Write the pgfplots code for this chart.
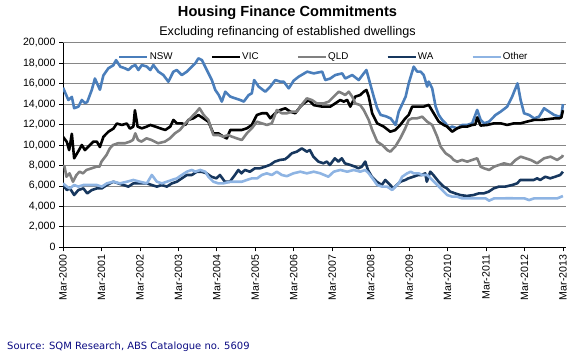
\documentclass[border=0pt]{standalone}
\usepackage{fontspec}
\setmainfont{Liberation Sans}
\newfontfamily\srcfont{DejaVu Sans}
\usepackage{pgfplots}
\pgfplotsset{compat=1.18}
\definecolor{nsw}{RGB}{74,126,187}
\definecolor{vic}{RGB}{0,0,0}
\definecolor{qld}{RGB}{128,128,128}
\definecolor{wa}{RGB}{23,55,94}
\definecolor{oth}{RGB}{142,180,227}
\definecolor{gridc}{RGB}{134,134,134}
\definecolor{srcblue}{RGB}{10,10,130}
\begin{document}
\begin{tikzpicture}[x=1pt,y=1pt]
\useasboundingbox (0,0) rectangle (575,357);
\begin{axis}[
 at={(63pt,109.7pt)}, anchor=south west,
 width=503pt, height=204.6pt, scale only axis,
 xmin=0, xmax=13.08, ymin=0, ymax=20,
 axis lines=left, axis line style={-, black, line width=0.8pt},
 tick align=outside, major tick length=4pt,
 tick style={black, line width=0.7pt},
 ymajorgrids, grid style={gridc, line width=0.75pt},
 ytick={0,2,...,20},
 yticklabels={0,{2,000},{4,000},{6,000},{8,000},{10,000},{12,000},{14,000},{16,000},{18,000},{20,000}},
 xtick={0,1,...,13},
 xticklabels={Mar-2000,Mar-2001,Mar-2002,Mar-2003,Mar-2004,Mar-2005,Mar-2006,Mar-2007,Mar-2008,Mar-2009,Mar-2010,Mar-2011,Mar-2012,Mar-2013},
 xticklabel style={rotate=90, anchor=east, font=\fontsize{10.6}{12}\selectfont},
 yticklabel style={font=\fontsize{10.6}{12}\selectfont},
 legend columns=5,
 legend style={at={(0.1093,0.930)}, anchor=west, draw=none, fill=none,
   font=\fontsize{9.8}{11}\selectfont, inner sep=0pt,
   nodes={inner sep=1pt},
   /tikz/every even column/.append style={column sep=37pt}},
 legend image code/.code={\draw[#1] (0pt,0pt) -- (28pt,0pt);},
 every axis plot/.append style={line width=2.6pt, line join=round},
]
\addplot[nsw] coordinates {(0.00,15.6) (0.14,14.4) (0.23,14.7) (0.29,13.6) (0.40,13.75) (0.49,14.4) (0.57,14.1) (0.63,14.2) (0.75,15.4) (0.83,16.5) (0.96,15.4) (1.05,16.8) (1.18,17.5) (1.31,17.8) (1.38,18.3) (1.49,17.66) (1.61,17.5) (1.70,17.33) (1.79,17.66) (1.88,17.82) (1.96,17.33) (2.05,17.82) (2.18,17.66) (2.27,17.33) (2.35,17.82) (2.48,17.17) (2.61,16.84) (2.74,16.19) (2.87,17.17) (2.96,17.33) (3.09,16.84) (3.22,17.17) (3.35,17.66) (3.44,17.98) (3.52,18.47) (3.61,18.31) (3.74,17.33) (3.87,16.35) (3.96,15.38) (4.05,14.89) (4.13,14.24) (4.22,15.21) (4.35,14.73) (4.48,14.56) (4.61,14.4) (4.70,14.24) (4.83,14.89) (4.91,15.05) (4.97,16.35) (5.09,15.7) (5.26,15.21) (5.39,15.7) (5.52,16.35) (5.65,16.19) (5.74,16.19) (5.87,15.54) (6.00,16.3) (6.13,16.68) (6.35,17.17) (6.52,17.0) (6.74,17.17) (6.82,16.35) (6.95,16.5) (7.08,16.84) (7.26,17.0) (7.34,16.5) (7.52,16.84) (7.69,16.35) (7.82,17.0) (7.89,17.33) (7.95,16.5) (8.08,14.73) (8.17,13.6) (8.26,12.94) (8.40,12.8) (8.52,12.6) (8.65,11.96) (8.73,13.26) (8.91,14.73) (8.99,16.03) (9.12,17.66) (9.21,17.17) (9.30,17.17) (9.38,16.84) (9.47,15.71) (9.51,16.2) (9.60,15.54) (9.69,13.75) (9.77,12.94) (9.86,12.45) (9.95,12.12) (10.03,11.63) (10.12,11.8) (10.25,11.63) (10.38,11.96) (10.51,11.96) (10.64,12.12) (10.77,13.43) (10.86,12.45) (10.95,12.12) (11.08,12.29) (11.25,12.94) (11.38,13.26) (11.55,13.75) (11.68,14.73) (11.82,16.03) (11.90,14.4) (11.99,13.1) (12.12,12.94) (12.25,12.6) (12.38,12.78) (12.51,13.59) (12.64,13.26) (12.77,12.94) (12.90,12.78) (12.96,12.9) (13.0,14.0)};
\addlegendentry{NSW}
\addplot[vic] coordinates {(0.0,10.8) (0.1,10.3) (0.16,9.5) (0.23,11.1) (0.29,8.7) (0.4,9.4) (0.49,10.0) (0.57,9.5) (0.7,10.0) (0.79,10.33) (0.88,10.33) (0.96,9.8) (1.05,10.8) (1.18,11.3) (1.31,11.6) (1.4,12.1) (1.53,11.96) (1.66,12.1) (1.74,11.6) (1.83,11.8) (1.87,13.4) (1.94,11.8) (2.05,11.63) (2.18,11.8) (2.27,11.96) (2.4,11.8) (2.53,11.63) (2.66,11.47) (2.79,11.8) (2.87,12.45) (2.96,12.12) (3.09,12.12) (3.18,11.96) (3.26,12.45) (3.39,12.61) (3.52,12.93) (3.65,12.61) (3.78,12.28) (3.91,11.14) (4.04,11.14) (4.17,10.82) (4.26,10.65) (4.35,11.47) (4.52,11.47) (4.65,11.47) (4.78,11.63) (4.91,11.96) (5.04,12.93) (5.17,13.1) (5.3,13.1) (5.39,12.61) (5.52,13.1) (5.65,13.42) (5.78,13.59) (5.91,13.26) (6.04,13.1) (6.17,13.75) (6.26,14.07) (6.39,14.4) (6.52,13.9) (6.74,13.75) (6.95,13.75) (7.08,14.07) (7.21,14.4) (7.3,14.24) (7.39,14.4) (7.47,13.75) (7.6,14.73) (7.73,14.89) (7.82,15.21) (7.89,15.38) (7.95,14.73) (8.04,13.1) (8.17,12.12) (8.34,11.8) (8.51,11.3) (8.64,11.46) (8.77,11.96) (8.9,12.6) (8.99,12.94) (9.08,13.75) (9.21,13.75) (9.38,13.75) (9.51,13.92) (9.64,13.1) (9.77,12.29) (9.9,11.96) (9.99,11.8) (10.12,11.3) (10.25,11.63) (10.38,11.8) (10.51,11.8) (10.64,11.96) (10.72,12.0) (10.77,12.7) (10.86,11.9) (11.03,11.96) (11.21,12.12) (11.38,12.12) (11.55,11.96) (11.73,12.12) (11.9,12.12) (12.07,12.29) (12.25,12.45) (12.42,12.45) (12.59,12.52) (12.77,12.6) (12.9,12.6) (12.96,12.7) (13.0,13.4)};
\addlegendentry{VIC}
\addplot[qld] coordinates {(0.0,8.0) (0.04,7.88) (0.09,6.9) (0.17,7.23) (0.26,6.41) (0.35,7.07) (0.43,7.39) (0.52,7.23) (0.61,7.56) (0.74,7.72) (0.87,7.88) (0.95,7.88) (1.0,8.37) (1.13,9.02) (1.22,9.68) (1.30,10.0) (1.43,10.17) (1.61,10.17) (1.74,10.33) (1.82,10.49) (1.88,11.14) (1.95,10.49) (2.04,10.33) (2.17,10.65) (2.30,10.49) (2.47,10.17) (2.65,10.33) (2.78,10.65) (2.91,11.14) (3.04,11.47) (3.18,12.12) (3.31,12.61) (3.44,13.1) (3.55,13.59) (3.66,12.93) (3.78,12.45) (3.91,10.98) (4.04,10.98) (4.17,10.82) (4.30,10.98) (4.39,10.82) (4.52,10.65) (4.65,10.49) (4.78,11.14) (4.91,11.63) (5.04,12.28) (5.17,12.12) (5.30,11.96) (5.43,12.12) (5.56,13.42) (5.69,13.1) (5.82,13.1) (5.95,13.26) (6.08,13.26) (6.17,13.75) (6.34,14.56) (6.47,14.4) (6.6,14.07) (6.78,14.07) (6.91,14.24) (7.04,14.73) (7.17,15.21) (7.26,15.05) (7.34,14.89) (7.43,15.21) (7.52,14.73) (7.6,14.07) (7.73,13.9) (7.82,13.42) (7.95,12.45) (8.04,11.47) (8.17,10.33) (8.3,10.0) (8.43,9.51) (8.51,9.35) (8.64,9.84) (8.77,10.65) (8.9,11.63) (8.99,12.45) (9.08,12.61) (9.21,12.61) (9.34,12.77) (9.47,12.28) (9.6,11.96) (9.73,10.82) (9.82,9.84) (9.95,9.19) (10.08,8.86) (10.16,8.54) (10.25,8.37) (10.38,8.54) (10.51,8.37) (10.64,8.54) (10.77,8.7) (10.86,7.88) (10.95,7.72) (11.08,7.56) (11.21,7.88) (11.34,8.05) (11.47,8.21) (11.64,8.05) (11.77,8.54) (11.9,8.86) (12.03,8.7) (12.16,8.54) (12.33,8.21) (12.51,8.7) (12.68,8.86) (12.85,8.54) (12.98,8.86) (13.0,9.02)};
\addlegendentry{QLD}
\addplot[wa] coordinates {(0.0,6.09) (0.1,5.6) (0.18,5.76) (0.29,5.11) (0.40,5.6) (0.53,5.76) (0.63,5.27) (0.75,5.6) (0.88,5.76) (1.01,5.76) (1.14,6.09) (1.31,6.41) (1.44,6.25) (1.57,6.09) (1.70,5.93) (1.83,6.25) (2.0,6.25) (2.18,6.25) (2.31,6.09) (2.44,5.93) (2.57,6.09) (2.70,5.93) (2.83,6.25) (2.96,6.41) (3.09,6.74) (3.22,7.07) (3.35,7.07) (3.48,7.39) (3.6,7.39) (3.73,7.23) (3.86,6.9) (3.99,6.74) (4.08,7.07) (4.21,6.41) (4.34,6.41) (4.47,7.07) (4.56,7.56) (4.64,7.23) (4.73,7.56) (4.86,7.39) (4.99,7.72) (5.12,7.72) (5.25,7.88) (5.38,8.05) (5.51,8.38) (5.64,8.54) (5.77,8.6) (5.86,8.86) (5.95,9.19) (6.08,9.35) (6.21,9.67) (6.34,9.35) (6.42,9.51) (6.51,8.86) (6.64,8.38) (6.77,8.21) (6.86,8.38) (6.94,8.05) (7.07,8.7) (7.16,8.38) (7.25,8.7) (7.33,8.21) (7.47,8.05) (7.6,7.88) (7.68,7.72) (7.77,7.88) (7.86,8.38) (7.93,7.56) (8.03,6.9) (8.16,6.41) (8.29,6.09) (8.38,6.58) (8.51,6.09) (8.59,5.76) (8.68,6.09) (8.77,6.41) (8.9,6.58) (8.98,6.74) (9.11,6.9) (9.24,7.07) (9.33,7.07) (9.42,7.23) (9.46,6.41) (9.55,7.39) (9.63,7.07) (9.77,6.41) (9.9,5.93) (9.98,5.76) (10.07,5.44) (10.2,5.27) (10.33,5.11) (10.5,5.02) (10.68,5.11) (10.81,5.27) (10.94,5.27) (11.07,5.44) (11.2,5.76) (11.33,5.93) (11.5,5.93) (11.68,6.09) (11.81,6.25) (11.89,6.58) (12.07,6.58) (12.24,6.58) (12.33,6.74) (12.41,6.58) (12.54,6.9) (12.67,6.74) (12.8,6.9) (12.93,7.07) (13.0,7.39)};
\addlegendentry{WA}
\addplot[oth] coordinates {(0.0,6.25) (0.1,5.93) (0.18,5.76) (0.29,6.09) (0.4,5.93) (0.53,6.09) (0.7,6.09) (0.88,6.09) (1.01,5.93) (1.14,6.25) (1.31,6.41) (1.48,6.25) (1.66,6.41) (1.83,6.58) (2.0,6.41) (2.18,6.25) (2.31,7.07) (2.44,6.41) (2.57,6.25) (2.7,6.41) (2.83,6.58) (2.96,6.74) (3.09,7.07) (3.22,7.39) (3.35,7.56) (3.44,7.39) (3.57,7.56) (3.7,7.39) (3.78,6.9) (3.91,6.41) (4.04,6.25) (4.17,6.25) (4.35,6.41) (4.52,6.41) (4.65,6.41) (4.78,6.58) (4.91,6.74) (5.05,6.74) (5.17,7.07) (5.3,7.23) (5.43,7.07) (5.56,7.39) (5.69,7.07) (5.82,6.95) (5.99,7.23) (6.17,7.39) (6.34,7.23) (6.52,7.39) (6.69,7.23) (6.9,6.9) (7.04,7.39) (7.21,7.56) (7.39,7.39) (7.56,7.56) (7.73,7.39) (7.86,7.56) (7.95,7.23) (8.08,6.58) (8.17,6.09) (8.3,5.93) (8.43,5.93) (8.56,5.6) (8.64,5.93) (8.73,6.25) (8.82,6.9) (8.95,7.23) (9.04,7.39) (9.12,7.23) (9.25,7.23) (9.34,7.07) (9.47,7.07) (9.6,6.58) (9.73,6.09) (9.86,5.6) (9.99,5.11) (10.12,4.95) (10.25,4.95) (10.38,4.78) (10.51,4.78) (10.68,4.78) (10.86,4.78) (10.99,4.78) (11.08,4.56) (11.21,4.78) (11.4,4.78) (11.6,4.8) (11.8,4.78) (12.0,4.78) (12.12,4.62) (12.25,4.78) (12.45,4.78) (12.65,4.78) (12.85,4.78) (13.0,5.01)};
\addlegendentry{Other}
\end{axis}
\node[anchor=base, inner sep=0pt, font=\bfseries\fontsize{14.6}{16}\selectfont] at (287.5,340) {Housing Finance Commitments};
\node[anchor=base, inner sep=0pt, font=\fontsize{12.6}{14}\selectfont] at (287.5,321) {Excluding refinancing of established dwellings};
\node[anchor=base west, inner sep=0pt, text=srcblue, font=\srcfont\fontsize{10}{12}\selectfont] at (7,8) {Source: SQM Research, ABS Catalogue no. 5609};
\end{tikzpicture}
\end{document}
